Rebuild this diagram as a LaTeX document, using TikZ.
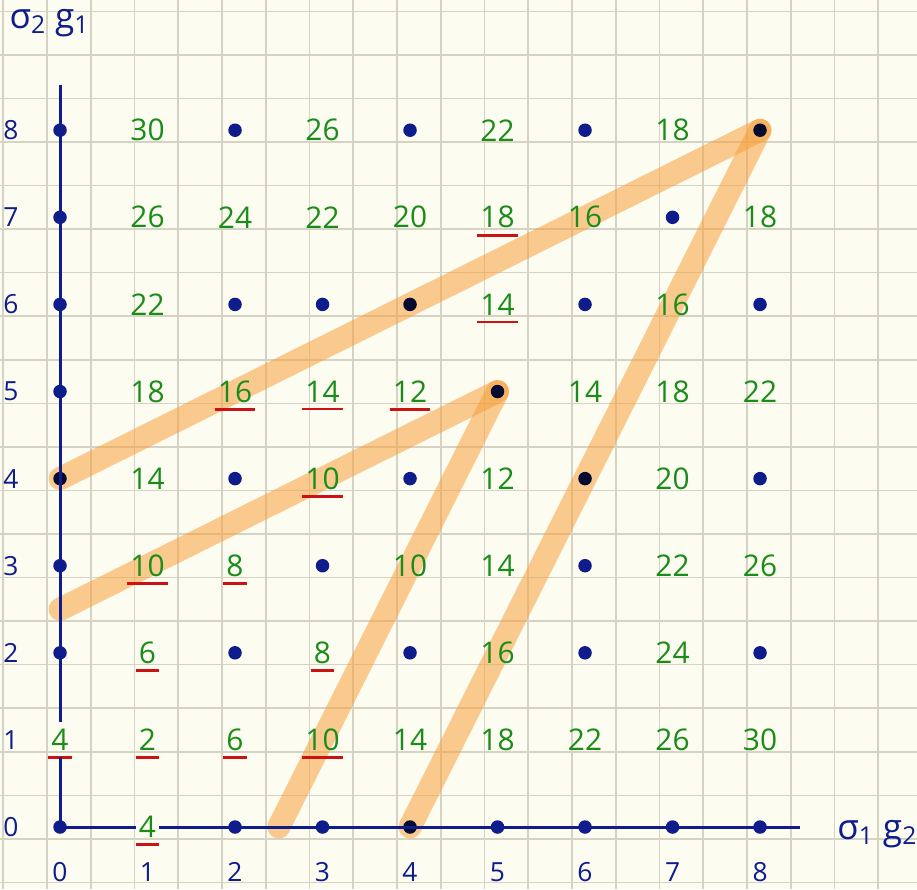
\documentclass[tikz,border=0pt]{standalone}
\usepackage{fontspec}
\setsansfont{Open Sans}
\usepackage{xcolor}
\usepackage{tikz}
\usetikzlibrary{positioning}

\definecolor{paper}{RGB}{253,252,240}
\definecolor{gridcol}{RGB}{214,210,196}
\definecolor{ink}{RGB}{14,28,140}
\definecolor{leaf}{RGB}{26,140,26}
\definecolor{redink}{RGB}{204,18,18}
\definecolor{bandcol}{RGB}{247,160,60}

\begin{document}
\begin{tikzpicture}[x=1.75cm, y=1.742cm, font=\sffamily\fontsize{17}{19}\selectfont,
    dot/.style={circle, fill=ink, inner sep=0pt, minimum size=0.27cm},
    dotdark/.style={dot, fill=ink!35!black},
    val/.style={text=leaf, inner xsep=0.06cm, inner ysep=0.13cm},
    best/.style={val, append after command={(\tikzlastnode.south west) edge[draw=redink, line width=1.6pt] (\tikzlastnode.south east)}},
    axnum/.style={text=ink, inner sep=1pt, font=\sffamily\fontsize{15}{17}\selectfont},
    axislab/.style={text=ink, inner sep=1pt, font=\sffamily\fontsize{20}{22}\selectfont},
    axisline/.style={draw=ink, line width=1.7pt},
    hl/.style={draw=bandcol, draw opacity=0.55, line width=0.46cm, line cap=round}]
    \useasboundingbox (-0.686,-0.712) rectangle (9.794,9.495);
    \fill[paper] (-0.686,-0.712) rectangle (9.794,9.495);
    \begin{scope}
        \clip (-0.686,-0.712) rectangle (9.794,9.495);
        \foreach \k in {-1,...,20}
            \draw[gridcol, line width=0.9pt] ({-0.149+0.5*\k},-0.712) -- ({-0.149+0.5*\k},9.495);
        \foreach \k in {-2,...,18}
            \draw[gridcol, line width=0.9pt] (-0.686,{0.364+0.5*\k}) -- (9.794,{0.364+0.5*\k});
    \end{scope}

    \coordinate (lowstart) at (0,2.5);
    \coordinate (lowend) at (2.5,0);
    \foreach \x/\y in {0/8, 2/8, 4/8, 6/8, 0/7, 7/7, 0/6, 2/6, 3/6, 6/6, 8/6,
                       0/5, 2/4, 4/4, 8/4, 0/3, 3/3, 6/3,
                       0/2, 2/2, 4/2, 6/2, 8/2, 0/0, 2/0, 3/0, 5/0, 6/0, 7/0, 8/0}
        \node[dot] (d-\x-\y) at (\x,\y) {};
    \foreach \x/\y in {8/8, 4/6, 5/5, 0/4, 6/4, 4/0}
        \coordinate (d-\x-\y) at (\x,\y);

    \draw[hl] (d-0-4) -- (d-8-8);
    \draw[hl] (d-8-8) -- (d-4-0);
    \draw[hl] (lowstart) -- (d-5-5);
    \draw[hl] (d-5-5) -- (lowend);

    \foreach \x/\y in {8/8, 4/6, 5/5, 0/4, 6/4, 4/0}
        \node[dotdark] (k-\x-\y) at (d-\x-\y) {};

    \foreach \x/\y/\t in {1/8/30, 3/8/26, 5/8/22, 7/8/18,
                          1/7/26, 2/7/24, 3/7/22, 4/7/20, 6/7/16, 8/7/18,
                          1/6/22, 7/6/16,
                          1/5/18, 6/5/14, 7/5/18, 8/5/22,
                          1/4/14, 5/4/12, 7/4/20,
                          4/3/10, 5/3/14, 7/3/22, 8/3/26,
                          5/2/16, 7/2/24,
                          4/1/14, 5/1/18, 6/1/22, 7/1/26, 8/1/30}
        \node[val] (v-\x-\y) at (\x,\y) {\t};
    \foreach \x/\y/\t in {5/7/18, 5/6/14, 2/5/16, 3/5/14, 4/5/12, 3/4/10,
                          1/3/10, 2/3/8, 1/2/6, 3/2/8,
                          0/1/4, 1/1/2, 2/1/6, 3/1/10, 1/0/4}
        \node[best] (v-\x-\y) at (\x,\y) {\t};

    \coordinate (ytop) at (0,8.52);
    \coordinate (xend) at (8.46,0);
    \draw[axisline] (d-0-0.center) -- (v-0-1.south);
    \draw[axisline] (v-0-1.north) -- (ytop);
    \draw[axisline] (d-0-0.center) -- (v-1-0.west);
    \draw[axisline] (v-1-0.east) -- (xend);

    \foreach \i in {0,...,8} {
        \node[axnum] (tx-\i) at (\i,-0.52) {\i};
        \node[axnum] (ty-\i) at (-0.56,\i) {\i};
    }
    \node[axislab] (ylab) at (-0.12,9.23) {σ\textsubscript{2} g\textsubscript{1}};
    \node[axislab] (xlab) at (9.34,-0.08) {σ\textsubscript{1} g\textsubscript{2}};
\end{tikzpicture}
\end{document}
